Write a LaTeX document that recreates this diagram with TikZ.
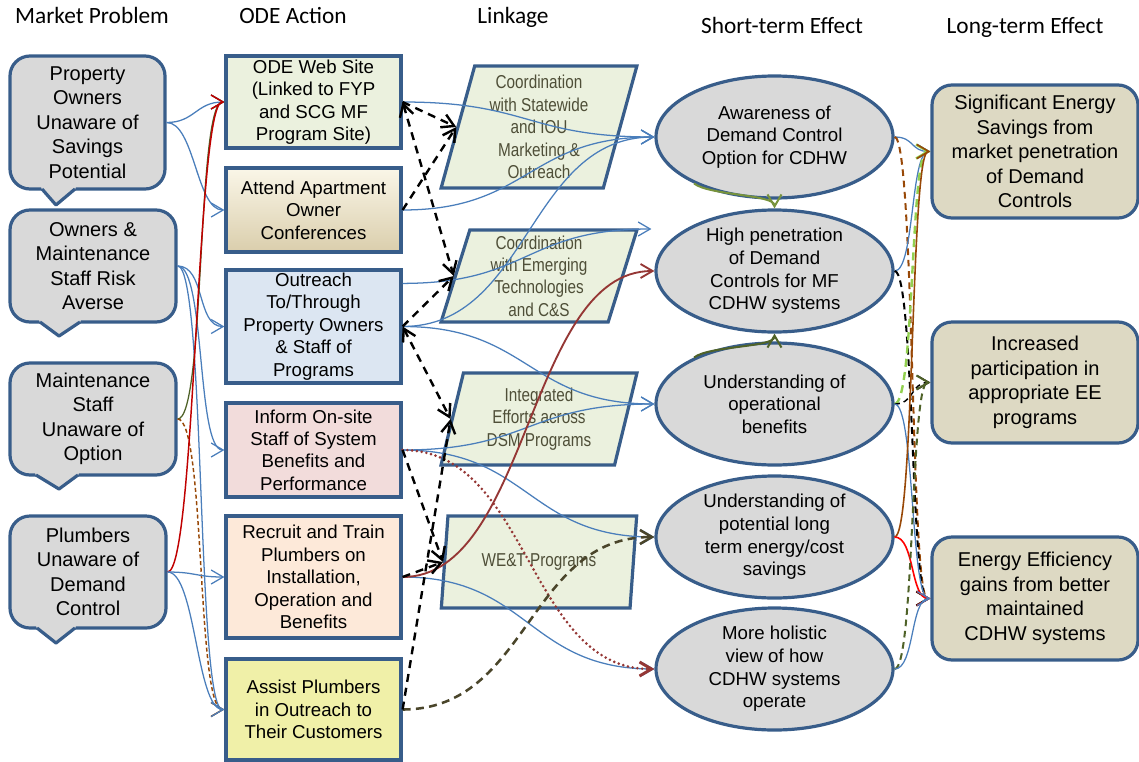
\documentclass[tikz,border=0pt]{standalone}
\usepackage{fontspec}
\setmainfont{Liberation Sans}
\newfontfamily\headfont{Carlito}
\newfontfamily\narrowfont[FakeStretch=0.82]{Liberation Sans}
\usetikzlibrary{arrows.meta,shapes.geometric,calc}

\definecolor{edgeblue}{RGB}{56,93,138}
\definecolor{lineblue}{RGB}{74,126,187}
\definecolor{boxgrey}{RGB}{217,217,217}
\definecolor{webgreen}{RGB}{235,241,222}
\definecolor{conftop}{RGB}{250,246,232}
\definecolor{confbottom}{RGB}{218,206,172}
\definecolor{outblue}{RGB}{220,230,242}
\definecolor{infopink}{RGB}{242,220,219}
\definecolor{trainpeach}{RGB}{253,233,217}
\definecolor{assistyellow}{RGB}{240,240,168}
\definecolor{linktext}{RGB}{79,79,56}
\definecolor{longtan}{RGB}{221,217,195}
\definecolor{oliveline}{RGB}{79,98,40}
\definecolor{greenline}{RGB}{119,147,60}
\definecolor{lightgreen}{RGB}{146,208,80}
\definecolor{brownline}{RGB}{152,72,7}
\definecolor{darkred}{RGB}{149,55,53}
\definecolor{redline}{RGB}{192,0,0}
\definecolor{olivedash}{RGB}{74,69,42}

\begin{document}
\begin{tikzpicture}[x=0.75pt,y=0.75pt,yscale=-1,xscale=1,
  >={Straight Barb[length=9pt,width=10.5pt]},
  head/.style={font=\headfont\fontsize{17.5}{20}\selectfont, anchor=base, inner sep=0pt},
  mpbox/.style={draw=edgeblue, line width=2.4pt, fill=boxgrey, rounded corners=15pt, align=center, inner sep=0pt, font=\fontsize{15}{18.4}\selectfont},
  odebox/.style={draw=edgeblue, line width=2.4pt, minimum width=131.25pt, align=center, inner sep=0pt, font=\fontsize{14}{16.8}\selectfont},
  linkbox/.style={trapezium, trapezium left angle=76, trapezium right angle=104, trapezium stretches=true, draw=edgeblue, line width=2.4pt, fill=webgreen, minimum width=147pt, text=linktext, align=center, inner sep=0pt, font=\narrowfont\fontsize{14}{16.8}\selectfont},
  stell/.style={ellipse, draw=edgeblue, line width=2.4pt, fill=boxgrey, minimum width=177.75pt, minimum height=91.5pt, align=center, inner sep=0pt, font=\fontsize{14}{17}\selectfont},
  ltbox/.style={draw=edgeblue, line width=2.4pt, fill=longtan, rounded corners=15pt, minimum width=154.5pt, align=center, inner sep=0pt, font=\fontsize{15}{18.4}\selectfont},
  pointer/.style={draw=edgeblue, line width=2.4pt, line join=round},
  conn/.style={draw=lineblue, line width=0.95pt, ->},
  dashconn/.style={draw=black, line width=1.8pt, dash pattern=on 6pt off 4.5pt, ->},
  mpbend/.style={out=0, in=180, distance=21pt},
  stbend/.style={out=0, in=180, distance=95pt},
  ltbend/.style={out=0, in=180, distance=15pt}]
\useasboundingbox (0,0) rectangle (1139,761);

% Text Node
\node[head] (hmp) at (92,23) {Market Problem};
% Text Node
\node[head] (hode) at (293,23) {ODE Action};
% Text Node
\node[head] (hlink) at (513,23) {Linkage};
% Text Node
\node[head] (hst) at (782,33) {Short-term Effect};
% Text Node
\node[head] (hlt) at (1025,33) {Long-term Effect};

%Shape: Callouts
\node[mpbox, minimum width=116.25pt, minimum height=99.75pt] (mp1) at (87.5,122.5) {Property\\Owners\\Unaware of\\Savings\\Potential};
\fill[boxgrey] (41,186.5) -- (76,186.5) -- (75,189.5) -- (56,205) -- (42,189.5) -- cycle;
\draw[pointer] (42,189) -- (56,205) -- (75,189);
\node[mpbox, minimum width=124.5pt, minimum height=84pt] (mp2) at (93,266) {Owners \&\\Maintenance\\Staff Risk\\Averse};
\fill[boxgrey] (39,319.5) -- (81,319.5) -- (80,322.5) -- (59,336) -- (40,322.5) -- cycle;
\draw[pointer] (40,322) -- (59,336) -- (80,322);
\node[mpbox, minimum width=124.5pt, minimum height=84pt] (mp3) at (93,419) {Maintenance\\Staff\\Unaware of\\Option};
\fill[boxgrey] (35,472.5) -- (79,472.5) -- (78,475.5) -- (59,489) -- (36,475.5) -- cycle;
\draw[pointer] (36,475) -- (59,489) -- (78,475);
\node[mpbox, minimum width=117pt, minimum height=84pt] (mp4) at (88,572) {Plumbers\\Unaware of\\Demand\\Control};
\fill[boxgrey] (36,625.5) -- (76,625.5) -- (75,628.5) -- (56,643) -- (37,628.5) -- cycle;
\draw[pointer] (37,628) -- (56,643) -- (75,628);

%Shape: ODE actions
\node[odebox, fill=webgreen, minimum height=69pt] (ode1) at (313.5,102) {ODE Web Site\\(Linked to FYP\\and SCG MF\\Program Site)};
\node[odebox, top color=conftop, bottom color=confbottom, minimum height=63pt] (ode2) at (313.5,210) {Attend Apartment\\Owner\\Conferences};
\node[odebox, fill=outblue, minimum height=84.75pt] (ode3) at (313.5,326.5) {Outreach\\To/Through\\Property Owners\\\& Staff of\\Programs};
\node[odebox, fill=infopink, minimum height=70.5pt] (ode4) at (313.5,450) {Inform On-site\\Staff of System\\Benefits and\\Performance};
\node[odebox, fill=trainpeach, minimum height=91.5pt] (ode5) at (313.5,577) {Recruit and Train\\Plumbers on\\Installation,\\Operation and\\Benefits};
\node[odebox, fill=assistyellow, minimum height=75.75pt] (ode6) at (313.5,709.5) {Assist Plumbers\\in Outreach to\\Their Customers};

%Shape: Linkage
\node[linkbox, minimum height=91.5pt] (lk1) at (539,127) {Coordination\\with Statewide\\and IOU\\Marketing \&\\Outreach};
\node[linkbox, minimum height=69pt] (lk2) at (539,276) {Coordination\\with Emerging\\Technologies\\and C\&S};
\node[linkbox, minimum height=69pt] (lk3) at (539,419) {Integrated\\Efforts across\\DSM Programs};
\node[linkbox, minimum height=69pt] (lk4) at (539,562) {WE\&T Programs};

%Shape: Short-term effects
\node[stell] (st1) at (774.5,137) {Awareness of\\Demand Control\\Option for CDHW};
\node[stell] (st2) at (774.5,271) {High penetration\\of Demand\\Controls for MF\\CDHW systems};
\node[stell] (st3) at (774.5,404) {Understanding of\\operational\\benefits};
\node[stell] (st4) at (774.5,537) {Understanding of\\potential long\\term energy/cost\\savings};
\node[stell] (st5) at (774.5,669) {More holistic\\view of how\\CDHW systems\\operate};
\coordinate (st2top) at ($(st2.west)+(-3,-42)$);

%Shape: Long-term effects
\node[ltbox, minimum height=99.75pt] (lt1) at (1035,151.5) {Significant Energy\\Savings from\\market penetration\\of Demand\\Controls};
\node[ltbox, minimum height=90.75pt] (lt2) at (1035,382.5) {Increased\\participation in\\appropriate EE\\programs};
\node[ltbox, minimum height=92.25pt] (lt3) at (1035,598.5) {Energy Efficiency\\gains from better\\maintained\\CDHW systems};

% market problem -> ODE action
\draw[conn] (mp1.east) to[mpbend] (ode1.west);
\draw[conn] (mp1.east) to[mpbend] (ode2.west);
\draw[conn] (mp2.east) to[mpbend] (ode3.west);
\draw[conn] (mp2.east) to[mpbend] (ode4.west);
\draw[conn] (mp2.east) to[mpbend] (ode6.west);
\draw[conn, draw=oliveline] (mp3.east) to[mpbend] (ode1.west);
\draw[conn, draw=brownline, line width=1.1pt, dash pattern=on 3pt off 2pt] (mp3.east) to[mpbend] (ode6.west);
\draw[conn, draw=redline, line width=1.1pt] (mp4.east) to[mpbend] (ode1.west);
\draw[conn] (mp4.east) to[mpbend] (ode5.west);
\draw[conn] (mp4.east) to[mpbend] (ode6.west);

% ODE action -> short-term effect
\draw[conn] (ode1.east) to[stbend] (st1.west);
\draw[conn] (ode2.east) to[stbend] (st1.west);
\draw[conn] (ode3.east) to[stbend] (st1.west);
\draw[conn] ($(ode3.north east)+(0,15)$) to[stbend] (st2top);
\draw[conn] (ode3.east) to[stbend] (st3.west);
\draw[conn] (ode4.east) to[stbend] (st3.west);
\draw[conn] (ode4.east) to[stbend] (st4.west);
\draw[conn] (ode5.east) to[stbend] (st5.west);
\draw[conn, draw=darkred, line width=2.2pt, line cap=round, dash pattern=on 0pt off 3.6pt] (ode4.east) to[stbend] (st5.west);
\draw[conn, draw=darkred, line width=1.4pt] (ode5.east) to[stbend] (st2.west);
\draw[conn, draw=olivedash, line width=1.9pt, dash pattern=on 6pt off 4pt] (ode6.east) to[stbend] (st4.west);

% ODE action -> linkage
\draw[dashconn] (ode1.east) -- (lk1.west);
\draw[dashconn, <->] (ode1.east) -- (lk2.west);
\draw[dashconn] (ode2.east) -- (lk1.west);
\draw[dashconn] (ode3.east) -- (lk2.west);
\draw[dashconn, <->] (ode3.east) -- (lk3.west);
\draw[dashconn] (ode4.east) -- (lk4.west);
\draw[dashconn] (ode5.east) -- (lk4.west);
\draw[dashconn] (ode6.east) -- (lk3.west);

% between short-term effects
\draw[conn, draw=greenline, line width=1.5pt] (st1.210) .. controls +(15,12) and +(0,-14) .. (st2.north);
\draw[conn, draw=oliveline, line width=1.5pt] (st3.150) .. controls +(15,-12) and +(0,14) .. (st2.south);

% short-term -> long-term effect
\draw[conn] (st1.east) to[ltbend] (lt1.west);
\draw[conn, draw=brownline, line width=1.5pt, dash pattern=on 5pt off 3.5pt] (st1.east) to[ltbend] (lt3.west);
\draw[conn] (st2.east) to[ltbend] (lt1.west);
\draw[conn, draw=black, line width=1.5pt, dash pattern=on 5pt off 3.5pt] (st2.east) to[ltbend] (lt3.west);
\draw[conn, draw=lightgreen, line width=1.8pt, dash pattern=on 6pt off 4pt] (st3.east) to[ltbend] (lt1.west);
\draw[conn, draw=black, line width=1.1pt, dash pattern=on 4pt off 3pt] (st3.east) to[ltbend] (lt2.west);
\draw[conn] (st3.east) to[ltbend] (lt3.west);
\draw[conn, draw=brownline, line width=1.2pt] (st4.east) to[ltbend] (lt1.west);
\draw[conn, draw=red, line width=1.2pt] (st4.east) to[ltbend] (lt3.west);
\draw[conn, draw=oliveline, line width=1.5pt, dash pattern=on 5pt off 3.5pt] (st5.east) to[ltbend] (lt2.west);
\draw[conn] (st5.east) to[ltbend] (lt3.west);

\end{tikzpicture}
\end{document}
